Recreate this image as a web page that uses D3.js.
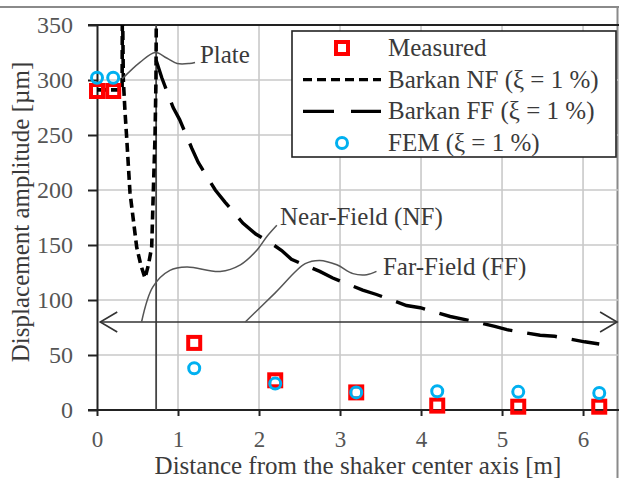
<!DOCTYPE html>
<html>
<head>
<meta charset="utf-8">
<script src="https://cdn.jsdelivr.net/npm/d3@7"></script>
<style>
  html, body { margin: 0; padding: 0; background: #fff; }
  svg { display: block; }
  text { font-family: "Liberation Serif", "Times New Roman", serif; }
</style>
</head>
<body>
<svg id="chart" width="619" height="478"></svg>
<script>
// Measured and simulated displacement amplitudes versus distance
const xTicks = [0, 1, 2, 3, 4, 5, 6];
const yTicks = [0, 50, 100, 150, 200, 250, 300, 350];

const distM = [0, 0.2, 1.2, 2.2, 3.2, 4.2, 5.2, 6.2];
const measured = [290, 290, 61, 27, 16, 4, 3, 3];
const fem = [302, 302, 38, 24, 16, 17, 16.5, 15.5];

// Barkan near-field solution (plate region, then the two branches)
const nfX = [0, 0.31, 0.313, 0.318, 0.325, 0.345, 0.366, 0.407, 0.45, 0.49, 0.54, 0.593, 0.635, 0.675, 0.695, 0.716, 0.728, 0.733];
const nfY = [291, 291, 370, 350, 300, 272, 248, 198, 172, 148, 132, 120, 132, 148, 198, 248, 300, 370];

// Barkan far-field solution
const ffX = [0.73, 0.80, 0.94, 1.02, 1.17, 1.25, 1.46, 1.58, 1.80, 1.96, 2.14, 2.28, 2.40, 2.75, 2.91, 3.28, 3.45, 3.82, 3.99, 4.36, 4.56, 4.91, 5.06, 5.47, 5.65, 6.02, 6.2];
const ffY = [318, 302, 275, 264, 238, 225, 200, 189, 170, 160, 152, 145, 137, 126, 120, 109, 105, 95, 93, 85, 82, 76, 73, 68, 67, 62, 60];

// Annotation leaders (data units)
const plateLeader = [[0.31, 301], [0.53, 316], [0.72, 325], [0.86, 320], [0.99, 315], [1.14, 315], [1.21, 316]];
const nearLeader = [[0.55, 80], [0.69, 112], [0.90, 127], [1.11, 130], [1.52, 126], [1.77, 132], [1.97, 145], [2.10, 158], [2.22, 168]];
const farLeader = [[1.83, 80], [2.2, 106.5], [2.57, 133], [2.75, 136], [2.96, 132], [3.16, 124], [3.33, 123], [3.45, 126]];
const notes = [
  { text: "Plate", x: 1.27, y: 315.5 },
  { text: "Near-Field (NF)", x: 2.26, y: 168 },
  { text: "Far-Field (FF)", x: 3.53, y: 123 }
];
const plateEdge = 0.73;   // radius of the plate [m]
const fieldSplit = 80;    // level of the NF / FF double arrow

const legendItems = [
  { label: "Measured", kind: "square" },
  { label: "Barkan NF (ξ = 1 %)", kind: "nf" },
  { label: "Barkan FF (ξ = 1 %)", kind: "ff" },
  { label: "FEM (ξ = 1 %)", kind: "circle" }
];

const RED = "#ff0000", BLUE = "#00b0f0", TXT = "#3a3a3a", TICK = "#555";
const NF_DASH = "9,5", FF_DASH = "30,15";

const svg = d3.select("#chart");
const x = d3.scaleLinear().domain([0, 6.45]).range([97, 619.5]);
const y = d3.scaleLinear().domain([0, 350]).range([410, 25]);

// image frame
svg.append("line").attr("x1", 0).attr("x2", 619).attr("y1", 7).attr("y2", 7)
  .attr("stroke", "#8a8a8a").attr("stroke-width", 2);
svg.append("line").attr("x1", 617.5).attr("x2", 617.5).attr("y1", 7).attr("y2", 478)
  .attr("stroke", "#8a8a8a").attr("stroke-width", 2);

const defs = svg.append("defs");
defs.append("clipPath").attr("id", "plot").append("rect")
  .attr("x", x(0)).attr("y", y(350)).attr("width", x(6.45) - x(0)).attr("height", y(0) - y(350));

// grid
const grid = svg.append("g").attr("stroke", "#c9c9c9").attr("stroke-width", 1.6);
grid.selectAll(".gx").data(xTicks.filter(d => d > 0)).join("line")
  .attr("x1", d => x(d)).attr("x2", d => x(d)).attr("y1", y(0)).attr("y2", y(350));
grid.selectAll(".gy").data(yTicks.filter(d => d > 0 && d < 350)).join("line")
  .attr("x1", x(0)).attr("x2", x(6.45)).attr("y1", d => y(d)).attr("y2", d => y(d));

// top border of the plot
svg.append("line").attr("x1", x(0) - 9).attr("x2", x(6.45)).attr("y1", y(350)).attr("y2", y(350))
  .attr("stroke", "#222").attr("stroke-width", 2);

// axes
const yAxis = svg.append("g").attr("transform", `translate(${x(0)},0)`)
  .call(d3.axisLeft(y).tickValues(yTicks).tickSize(9).tickSizeOuter(0).tickPadding(15));
const xAxis = svg.append("g").attr("transform", `translate(0,${y(0)})`)
  .call(d3.axisBottom(x).tickValues(xTicks).tickSize(6).tickSizeOuter(0).tickPadding(15).tickFormat(d3.format("d")));
xAxis.select(".domain").attr("d", `M${x(0) - 9},0H${x(6.45)}`);
[xAxis, yAxis].forEach(a => {
  a.select(".domain").attr("stroke", "#222").attr("stroke-width", 2);
  a.selectAll(".tick line").attr("stroke", "#222").attr("stroke-width", 2);
  a.selectAll(".tick text").attr("fill", TICK).attr("font-size", 23)
    .attr("font-family", "Liberation Serif, serif");
});
yAxis.selectAll(".tick text").attr("font-size", 24).attr("dy", "0.33em");

// axis titles
svg.append("text").attr("x", 358).attr("y", 474).attr("text-anchor", "middle")
  .attr("font-size", 25).attr("fill", TXT).text("Distance from the shaker center axis [m]");
svg.append("text").attr("transform", "translate(29,212) rotate(-90)").attr("text-anchor", "middle")
  .attr("font-size", 25).attr("fill", TXT).text("Displacement amplitude [µm]");

const plot = svg.append("g").attr("clip-path", "url(#plot)");

// plate edge
plot.append("line").attr("x1", x(plateEdge)).attr("x2", x(plateEdge)).attr("y1", y(0)).attr("y2", y(350))
  .attr("stroke", "#444").attr("stroke-width", 1.8);

// NF / FF double arrow
const arrowG = svg.append("g").attr("stroke", "#333").attr("stroke-width", 1.6).attr("fill", "none");
const ax0 = x(0.04), ax1 = x(6.42), ay = y(fieldSplit);
arrowG.append("line").attr("x1", ax0).attr("x2", ax1).attr("y1", ay).attr("y2", ay);
arrowG.append("path").attr("d", `M${ax0 + 17},${ay - 10}L${ax0},${ay}L${ax0 + 17},${ay + 10}`);
arrowG.append("path").attr("d", `M${ax1 - 17},${ay - 10}L${ax1},${ay}L${ax1 - 17},${ay + 10}`);

// leader lines
const leader = d3.line().x(d => x(d[0])).y(d => y(d[1])).curve(d3.curveCatmullRom.alpha(0.5));
[plateLeader, nearLeader, farLeader].forEach(pts => {
  svg.append("path").attr("d", leader(pts)).attr("fill", "none")
    .attr("stroke", "#555").attr("stroke-width", 1.5);
});
svg.selectAll(".note").data(notes).join("text")
  .attr("x", d => x(d.x)).attr("y", d => y(d.y))
  .attr("font-size", 25).attr("fill", TXT).text(d => d.text);

// Barkan curves
const line = d3.line().x(d => x(d[0])).y(d => y(d[1]));
plot.append("path").attr("d", line(d3.zip(nfX, nfY))).attr("fill", "none")
  .attr("stroke", "#000").attr("stroke-width", 3.6).attr("stroke-dasharray", NF_DASH);
plot.append("path").attr("d", line(d3.zip(ffX, ffY))).attr("fill", "none")
  .attr("stroke", "#000").attr("stroke-width", 3.4).attr("stroke-dasharray", FF_DASH);

// markers
const sq = 12;
svg.selectAll(".meas").data(d3.zip(distM, measured)).join("rect")
  .attr("x", d => x(d[0]) - sq / 2).attr("y", d => y(d[1]) - sq / 2)
  .attr("width", sq).attr("height", sq)
  .attr("fill", "none").attr("stroke", RED).attr("stroke-width", 4);
svg.selectAll(".fem").data(d3.zip(distM, fem)).join("circle")
  .attr("cx", d => x(d[0])).attr("cy", d => y(d[1])).attr("r", 5.5)
  .attr("fill", "none").attr("stroke", BLUE).attr("stroke-width", 3);

// legend
const lg = svg.append("g");
lg.append("rect").attr("x", 292).attr("y", 31).attr("width", 324).attr("height", 126)
  .attr("fill", "#fff").attr("stroke", "#222").attr("stroke-width", 1.6);
const rowY = d3.scalePoint().domain(legendItems.map(d => d.label)).range([48, 143]);
const rows = lg.selectAll(".row").data(legendItems).join("g")
  .attr("transform", d => `translate(0,${rowY(d.label)})`);
rows.append("text").attr("x", 388).attr("y", 8).attr("font-size", 25).attr("fill", TXT).text(d => d.label);
rows.each(function (d) {
  const g = d3.select(this);
  if (d.kind === "square") {
    g.append("rect").attr("x", 342 - sq / 2).attr("y", -sq / 2).attr("width", sq).attr("height", sq)
      .attr("fill", "none").attr("stroke", RED).attr("stroke-width", 4);
  } else if (d.kind === "circle") {
    g.append("circle").attr("cx", 342).attr("cy", 0).attr("r", 5.5)
      .attr("fill", "none").attr("stroke", BLUE).attr("stroke-width", 3);
  } else {
    g.append("line").attr("x1", 303).attr("x2", 381).attr("y1", 0).attr("y2", 0)
      .attr("stroke", "#000").attr("stroke-width", 3.4)
      .attr("stroke-dasharray", d.kind === "nf" ? NF_DASH : "31,17");
  }
});
</script>
</body>
</html>
